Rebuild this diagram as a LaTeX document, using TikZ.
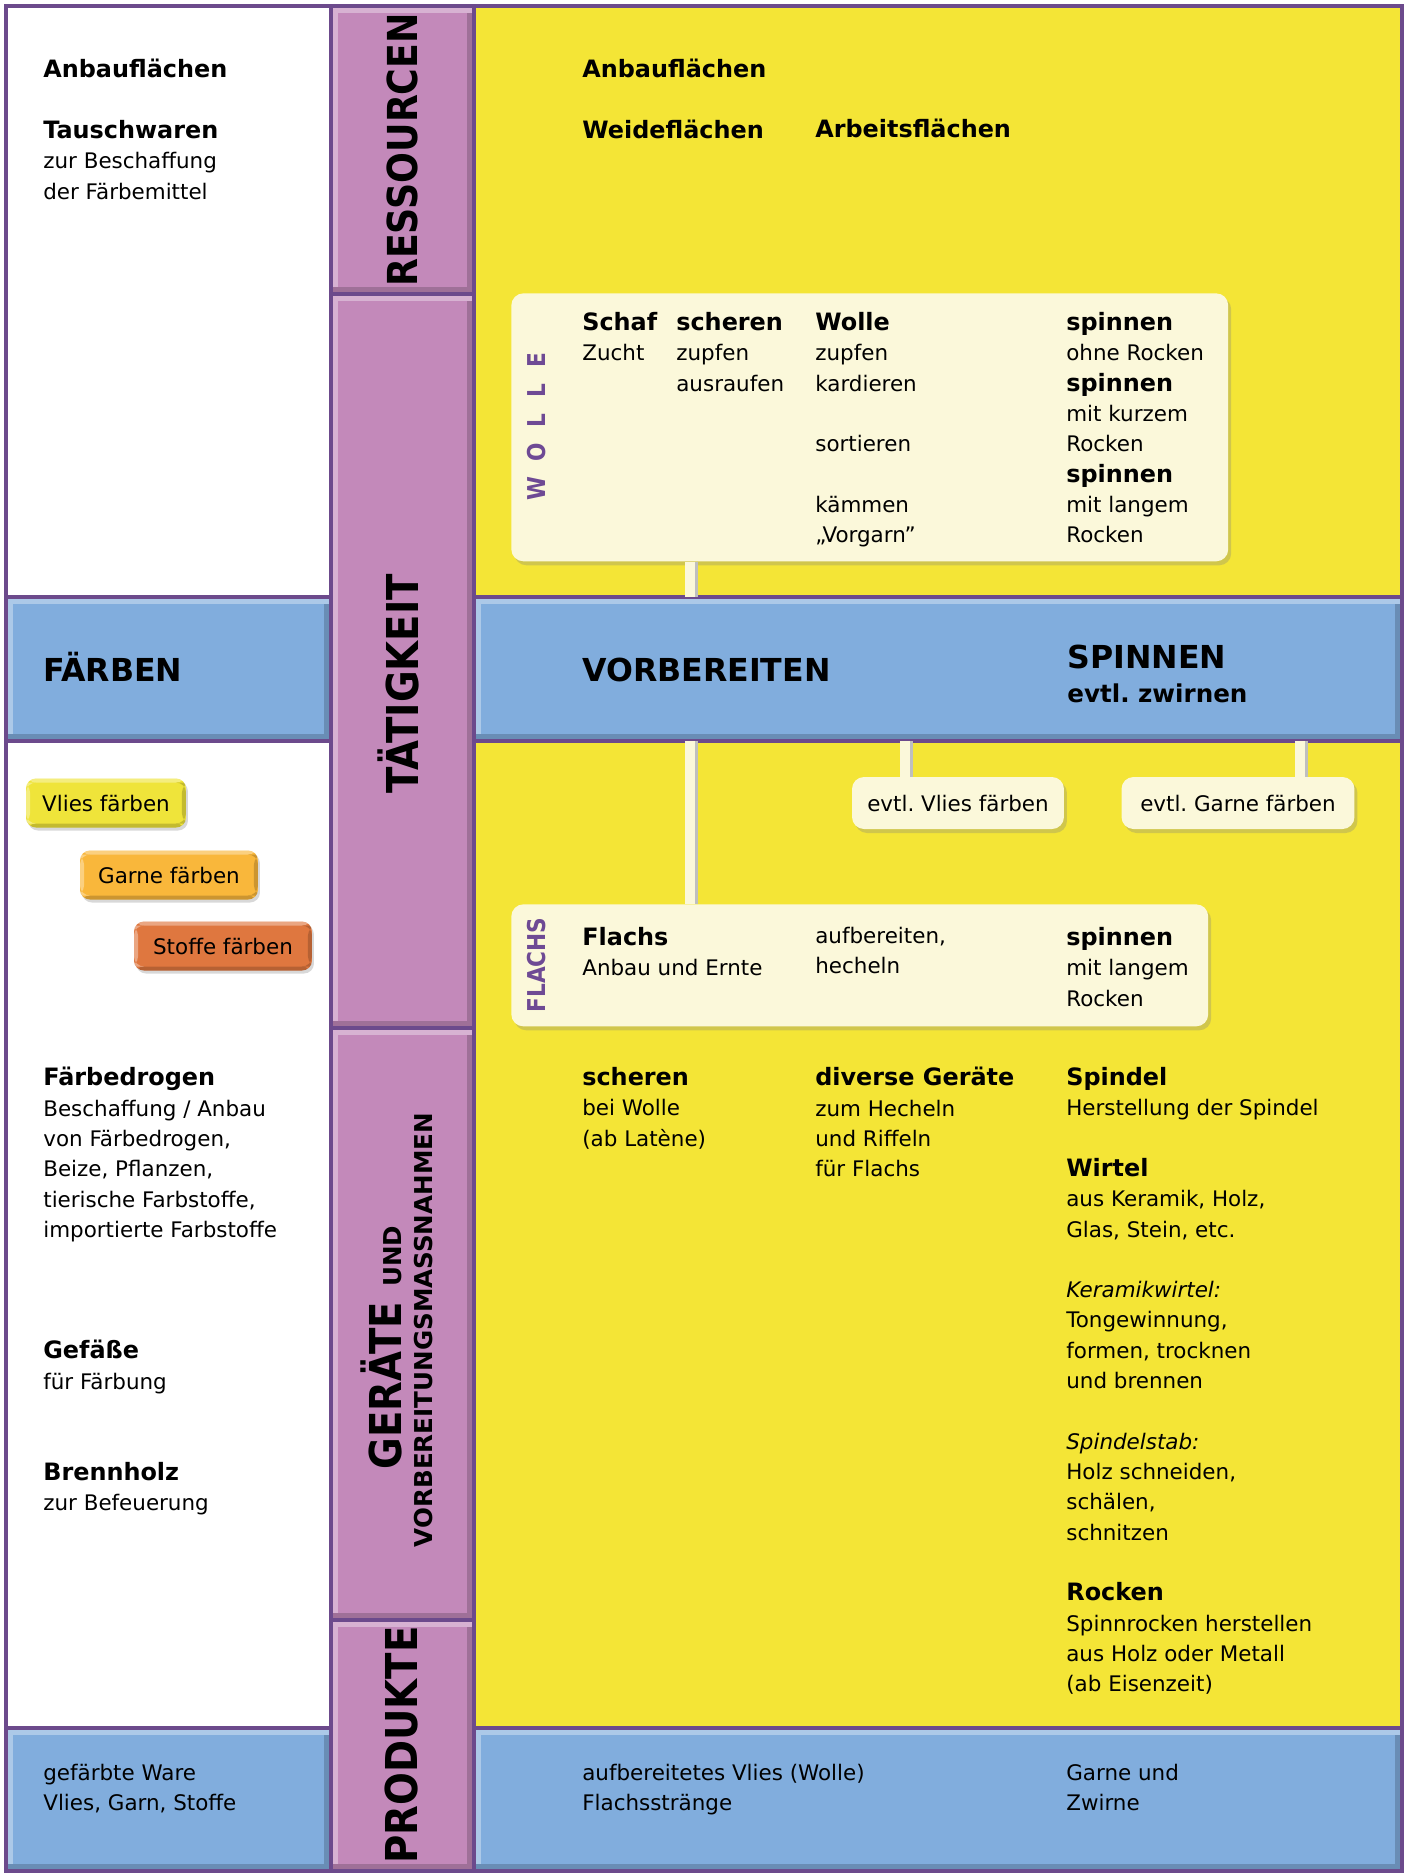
\documentclass[tikz,border=0pt]{standalone}
\usepackage{fontspec}
\setmainfont{DejaVu Sans}[ItalicFont={DejaVu Sans Oblique},BoldItalicFont={DejaVu Sans Bold Oblique}]
\newfontfamily\colfont{DejaVu Sans}[FakeStretch=0.88]
\usepackage{tikz}
\usetikzlibrary{positioning,shadows}
\frenchspacing

\definecolor{framepurple}{HTML}{6C4A8C}
\definecolor{colpurple}{HTML}{C389BA}
\definecolor{bandblue}{HTML}{81ADDD}
\definecolor{fieldyellow}{HTML}{F4E536}
\definecolor{cream}{HTML}{FBF8DA}
\definecolor{btnyellow}{HTML}{EFE43A}
\definecolor{btnorange}{HTML}{F9B73B}
\definecolor{btnred}{HTML}{DF773F}
\definecolor{tagpurple}{HTML}{6E4A94}

\newcommand\bodyfont{\fontsize{12.2}{17.25}\selectfont}
\newcommand\headfont{\fontsize{13.6}{17.25}\selectfont\bfseries}
\newcommand\bandfont{\fontsize{18}{21}\selectfont\bfseries}
\newcommand\colheadfont{\colfont\bfseries\fontsize{25}{26}\selectfont}

\tikzset{
  cell/.style={draw=framepurple, line width=.08cm},
  bevel/.style={path picture={
      \fill[white, opacity=.35] (path picture bounding box.north west) rectangle ([yshift=-#1]path picture bounding box.north east);
      \fill[white, opacity=.35] ([yshift=-#1]path picture bounding box.north west) rectangle ([xshift=#1, yshift=#1]path picture bounding box.south west);
      \fill[black, opacity=.18] (path picture bounding box.south west) rectangle ([yshift=#1]path picture bounding box.south east);
      \fill[black, opacity=.18] ([yshift=-#1]path picture bounding box.north east) rectangle ([xshift=-#1, yshift=#1]path picture bounding box.south east);
  }},
  bevel/.default=.14cm,
  paper/.style={fill=cream, rounded corners=.24cm, inner sep=0pt, drop shadow={shadow xshift=.06cm, shadow yshift=-.08cm, opacity=.3}},
  note/.style={paper, minimum height=1.04cm, font=\bodyfont},
  btn/.style={rounded corners=.2cm, minimum height=.98cm, inner sep=0pt, font=\bodyfont, bevel=.08cm, drop shadow={shadow xshift=.04cm, shadow yshift=-.06cm, opacity=.3}},
  link/.style={draw=cream, line width=.2cm, preaction={draw=black!25, line width=.2cm, transform canvas={xshift=.05cm}}},
  txt/.style={anchor=north west, inner sep=0pt, align=left, font=\bodyfont, execute at begin node=\strut},
  bandtxt/.style={anchor=base west, inner sep=0pt, font=\bandfont},
  collabel/.style={rotate=90, inner sep=0pt, font=\colheadfont},
  tag/.style={rotate=90, inner sep=0pt, text=tagpurple, font=\colfont\bfseries\fontsize{14}{16}\selectfont},
}

\begin{document}
\begin{tikzpicture}[x=0.02cm, y=-0.02cm]
  \useasboundingbox (0,0) rectangle (1405,1874);

  % left column
  \draw[cell, fill=white] (6,6) rectangle (331,597);
  \draw[cell, fill=bandblue, bevel] (6,597) rectangle (331,741);
  \draw[cell, fill=white] (6,741) rectangle (331,1728);
  \draw[cell, fill=bandblue, bevel] (6,1728) rectangle (331,1871);

  % purple column
  \draw[cell, fill=colpurple, bevel] (331,6) rectangle (474,294);
  \draw[cell, fill=colpurple, bevel] (331,294) rectangle (474,1028);
  \draw[cell, fill=colpurple, bevel] (331,1028) rectangle (474,1620);
  \draw[cell, fill=colpurple, bevel] (331,1620) rectangle (474,1871);

  % right part
  \draw[cell, fill=fieldyellow] (474,6) rectangle (1402,597);
  \draw[cell, fill=fieldyellow] (474,741) rectangle (1402,1728);
  \draw[cell, fill=bandblue, bevel] (474,1728) rectangle (1402,1871);
  \node[cell, fill=bandblue, bevel, anchor=north west, inner sep=0pt, outer sep=0pt,
        minimum width=18.56cm, minimum height=2.88cm] (vorband) at (474,597) {};

  % boxes
  \node[paper, anchor=north west, minimum width=14.34cm, minimum height=5.36cm] (wolle) at (511,293) {};
  \node[paper, anchor=north west, minimum width=13.94cm, minimum height=2.44cm] (flachs) at (511,904) {};
  \node[note, minimum width=4.24cm] (evlies) at (958,803) {evtl. Vlies färben};
  \node[note, minimum width=4.66cm] (egarne) at (1238,803) {evtl. Garne färben};

  \node[btn, fill=btnyellow, minimum width=3.2cm] (bvlies) at (106,803) {Vlies färben};
  \node[btn, fill=btnorange, minimum width=3.56cm] (bgarne) at (169,875) {Garne färben};
  \node[btn, fill=btnred, minimum width=3.56cm] (bstoffe) at (223,946) {Stoffe färben};

  % connectors
  \coordinate (lnkw) at (690,0);
  \coordinate (lnkv) at (905,0);
  \coordinate (lnkg) at (1300,0);
  \draw[link] (wolle.south -| lnkw) -- (vorband.north -| lnkw);
  \draw[link] (vorband.south -| lnkw) -- (flachs.north -| lnkw);
  \draw[link] (vorband.south -| lnkv) -- (evlies.north -| lnkv);
  \draw[link] (vorband.south -| lnkg) -- (egarne.north -| lnkg);

  % column labels
  \node[collabel, font=\colfont\bfseries\fontsize{23.5}{25}\selectfont] (lblres) at (402,150) {RESSOURCEN};
  \node[collabel] (lbltat) at (398,684) {TÄTIGKEIT};
  \node[rotate=90, align=center, inner sep=0pt, font=\bfseries\fontsize{14}{17.6}\selectfont] (lblger) at (397,1330)
    {{\colheadfont GERÄTE}\hspace{0.6em}UND\hspace*{20pt}\\VORBEREITUNGSMASSNAHMEN};
  \node[collabel] (lblprod) at (402,1745) {PRODUKTE};

  % left texts
  \node[txt] (lres) at (43,59) {{\headfont Anbauflächen}\\~\\{\headfont Tauschwaren}\\zur Beschaffung\\der Färbemittel};
  \node[bandtxt] (lfaerb) at (43,681) {FÄRBEN};
  \node[txt] (ldrog) at (43,1067) {{\headfont Färbedrogen}\\Beschaffung / Anbau\\von Färbedrogen,\\Beize, Pflanzen,\\tierische Farbstoffe,\\importierte Farbstoffe};
  \node[txt] (lgef) at (43,1340) {{\headfont Gefäße}\\für Färbung};
  \node[txt] (lholz) at (43,1462) {{\headfont Brennholz}\\zur Befeuerung};
  \node[txt] (lprod) at (43,1764) {gefärbte Ware\\Vlies, Garn, Stoffe};

  % right texts
  \node[txt] (ranbau) at (582,59) {{\headfont Anbauflächen}\\~\\{\headfont Weideflächen}};
  \node[txt] (rarbeit) at (815,116) {{\headfont Arbeitsflächen}};

  \node[tag] (tagwolle) at (537,427) {W\hspace{9pt}O\hspace{9pt}L\hspace{9pt}L\hspace{9pt}E};
  \node[txt] (wschaf) at (582,312) {{\headfont Schaf}\\Zucht};
  \node[txt] (wscher) at (676,312) {{\headfont scheren}\\zupfen\\ausraufen};
  \node[txt] (wwolle) at (815,312) {{\headfont Wolle}\\zupfen\\kardieren\\~\\sortieren\\~\\kämmen\\„Vorgarn”};
  \node[txt] (wspinn) at (1066,312) {{\headfont spinnen}\\ohne Rocken\\{\headfont spinnen}\\mit kurzem\\Rocken\\{\headfont spinnen}\\mit langem\\Rocken};

  \node[bandtxt] (vorb) at (582,681) {VORBEREITEN};
  \node[txt, font=\bfseries\fontsize{14}{19.3}\selectfont] (spinn) at (1067,645) {{\fontsize{18}{19.3}\selectfont SPINNEN}\\evtl. zwirnen};

  \node[tag] (tagflachs) at (537,965) {FLACHS};
  \node[txt] (fflachs) at (582,927) {{\headfont Flachs}\\Anbau und Ernte};
  \node[txt] (fauf) at (815,927) {aufbereiten,\\hecheln};
  \node[txt] (fspinn) at (1066,927) {{\headfont spinnen}\\mit langem\\Rocken};

  \node[txt] (gscher) at (582,1067) {{\headfont scheren}\\bei Wolle\\(ab Latène)};
  \node[txt] (gdiv) at (815,1067) {{\headfont diverse Geräte}\\zum Hecheln\\und Riffeln\\für Flachs};
  \node[txt] (gspind) at (1066,1067) {{\headfont Spindel}\\Herstellung der Spindel\\~\\{\headfont Wirtel}\\aus Keramik, Holz,\\Glas, Stein, etc.\\~\\{\itshape Keramikwirtel:}\\Tongewinnung,\\formen, trocknen\\und brennen\\~\\{\itshape Spindelstab:}\\Holz schneiden,\\schälen,\\schnitzen\\~\\{\headfont Rocken}\\Spinnrocken herstellen\\aus Holz oder Metall\\(ab Eisenzeit)};

  \node[txt] (pvlies) at (582,1764) {aufbereitetes Vlies (Wolle)\\Flachsstränge};
  \node[txt] (pgarn) at (1066,1764) {Garne und\\Zwirne};
\end{tikzpicture}
\end{document}
